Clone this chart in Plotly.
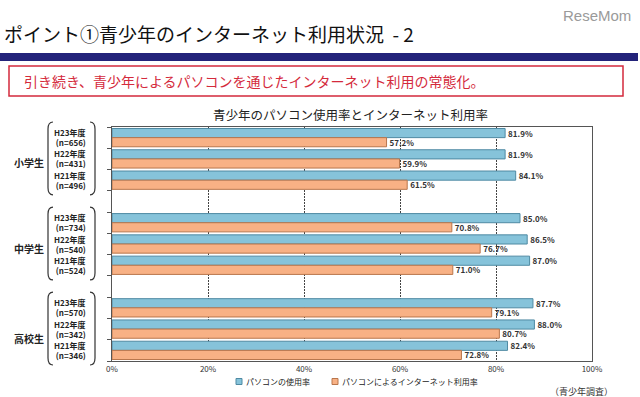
import plotly.graph_objects as go

# ---------------- data ----------------
groups = ["小学生", "中学生", "高校生"]
years = ["H23年度", "H22年度", "H21年度"]
sample_n = [656, 431, 496, 734, 540, 524, 570, 342, 346]
pc_use = [81.9, 81.9, 84.1, 85.0, 86.5, 87.0, 87.7, 88.0, 82.4]
net_use = [57.2, 59.9, 61.5, 70.8, 76.7, 71.0, 79.1, 80.7, 72.8]
tick_values = [0, 20, 40, 60, 80, 100]
tick_labels = ["0%", "20%", "40%", "60%", "80%", "100%"]
series_names = ["パソコンの使用率", "パソコンによるインターネット利用率"]

# ---------------- layout helpers ----------------
W, H = 640, 397
L, R, T, B = 112, 48, 127, 36
PW, PH = W - L - R, H - T - B
FONT = "Noto Sans CJK JP"


def px(x):
    return (x - L) / PW


def py(y):
    return (H - B - y) / PH


# slot index per row: 3 rows per group, one empty slot between groups
slots = [g * 4 + k for g in range(len(groups)) for k in range(len(years))]
n_slots = len(groups) * 4 - 1

BLUE, BLUE_EDGE = "#86c3da", "#4f8aa3"
ORANGE, ORANGE_EDGE = "#f8b185", "#b9764c"
colors = [(BLUE, BLUE_EDGE), (ORANGE, ORANGE_EDGE)]

fig = go.Figure()
for vals, name, (col, edge) in zip([pc_use, net_use], series_names, colors):
    fig.add_trace(go.Bar(
        x=vals, y=slots, orientation="h", name=name,
        marker=dict(color=col, line=dict(color=edge, width=1)),
        text=[f"{v:.1f}%" for v in vals], textposition="outside",
        textfont=dict(family=FONT, size=8, color="#333333", weight="bold"),
        cliponaxis=False, constraintext="none", showlegend=False,
        hovertemplate="%{x:.1f}%<extra>" + name + "</extra>",
    ))

annotations = []
shapes = []

# page title
annotations.append(dict(
    text="ポイント①青少年のインターネット利用状況  - 2", xref="paper", yref="paper",
    x=px(2), y=py(33), xanchor="left", yanchor="middle", showarrow=False,
    font=dict(family=FONT, size=19, color="#111111")))
# logo
annotations.append(dict(
    text="ReseMom", xref="paper", yref="paper", x=px(633), y=py(16),
    xanchor="right", yanchor="middle", showarrow=False,
    font=dict(family="Liberation Sans", size=15, color="#9a9a9a")))
# navy band
shapes.append(dict(type="rect", xref="paper", yref="paper",
                   x0=px(0), x1=px(638), y0=py(61), y1=py(53),
                   fillcolor="#23237a", line=dict(width=0)))
# red headline box
shapes.append(dict(type="rect", xref="paper", yref="paper",
                   x0=px(9), x1=px(623), y0=py(96), y1=py(66),
                   fillcolor="rgba(0,0,0,0)", line=dict(color="#d42a3c", width=1.5)))
annotations.append(dict(
    text="引き続き、青少年によるパソコンを通じたインターネット利用の常態化。",
    xref="paper", yref="paper", x=px(22), y=py(81), xanchor="left", yanchor="middle",
    showarrow=False, font=dict(family=FONT, size=14, color="#d42a3c")))
# chart title
annotations.append(dict(
    text="青少年のパソコン使用率とインターネット利用率", xref="paper", yref="paper",
    x=px(350), y=py(114), xanchor="center", yanchor="middle", showarrow=False,
    font=dict(family=FONT, size=12.5, color="#222222")))
# source note
annotations.append(dict(
    text="（青少年調査）", xref="paper", yref="paper", x=px(581), y=py(391),
    xanchor="center", yanchor="middle", showarrow=False,
    font=dict(family=FONT, size=9, color="#333333")))

# legend (square key + label)
legend_x = [236, 332]
for (col, edge), name, lx in zip(colors, series_names, legend_x):
    shapes.append(dict(type="rect", xref="paper", yref="paper",
                       x0=px(lx), x1=px(lx + 6), y0=py(384.5), y1=py(378.5),
                       fillcolor=col, line=dict(color=edge, width=1)))
    annotations.append(dict(
        text=name, xref="paper", yref="paper", x=px(lx + 8), y=py(381.5),
        xanchor="left", yanchor="middle", showarrow=False,
        font=dict(family=FONT, size=8, color="#222222")))

# row labels, group labels, brackets
group_offsets = [0.15, 0.2, 0.45]
slot_px = PH / n_slots
for g, grp in enumerate(groups):
    annotations.append(dict(
        text=grp, xref="paper", yref="y", x=px(29), y=g * 4 + 1 + group_offsets[g],
        xanchor="center", yanchor="middle", showarrow=False,
        font=dict(family=FONT, size=10, color="#222222", weight="bold")))
    top = T + g * 4 * slot_px - 5
    bot = T + (g * 4 + 3) * slot_px + 4
    lx, lc = 48, 53
    rx, rc = 95, 90
    left = (f"M {px(lc)},{py(top)} Q {px(lx)},{py(top)} {px(lx)},{py(top + 7)} "
            f"L {px(lx)},{py(bot - 7)} Q {px(lx)},{py(bot)} {px(lc)},{py(bot)}")
    right = (f"M {px(rc)},{py(top)} Q {px(rx)},{py(top)} {px(rx)},{py(top + 7)} "
             f"L {px(rx)},{py(bot - 7)} Q {px(rx)},{py(bot)} {px(rc)},{py(bot)}")
    for p in (left, right):
        shapes.append(dict(type="path", xref="paper", yref="paper", path=p,
                           line=dict(color="#333333", width=1.2)))

for i, s in enumerate(slots):
    annotations.append(dict(
        text=f"{years[i % 3]}<br> (n={sample_n[i]})", xref="paper", yref="y",
        x=px(52), y=s, xanchor="left", yanchor="middle", align="left", showarrow=False,
        font=dict(family=FONT, size=8, color="#222222", weight="bold")))

fig.update_layout(
    width=W, height=H, autosize=False,
    margin=dict(l=L, r=R, t=T, b=B, pad=0),
    paper_bgcolor="white", plot_bgcolor="white",
    barmode="group", bargap=0.14, bargroupgap=0,
    font=dict(family=FONT, color="#333333"),
    showlegend=False,
    annotations=annotations,
    shapes=shapes,
    xaxis=dict(range=[0, 100], tickvals=tick_values, ticktext=tick_labels,
               showgrid=True, gridcolor="#444444", griddash="2px,1px", gridwidth=1,
               showline=True, mirror=True, linecolor="#555555", linewidth=1,
               zeroline=False, ticks="", fixedrange=True,
               tickfont=dict(family=FONT, size=8, color="#333333")),
    yaxis=dict(range=[n_slots - 0.5, -0.5],
               tickvals=[i - 0.5 for i in range(n_slots + 1)],
               showticklabels=False, ticks="outside", ticklen=4, tickcolor="#555555",
               showgrid=False, showline=True, mirror=True, linecolor="#555555",
               linewidth=1, zeroline=False, fixedrange=True),
)

fig.write_html("out.html", config={"displayModeBar": False},
               post_script="document.body.style.margin='0';document.body.style.overflow='hidden';")
